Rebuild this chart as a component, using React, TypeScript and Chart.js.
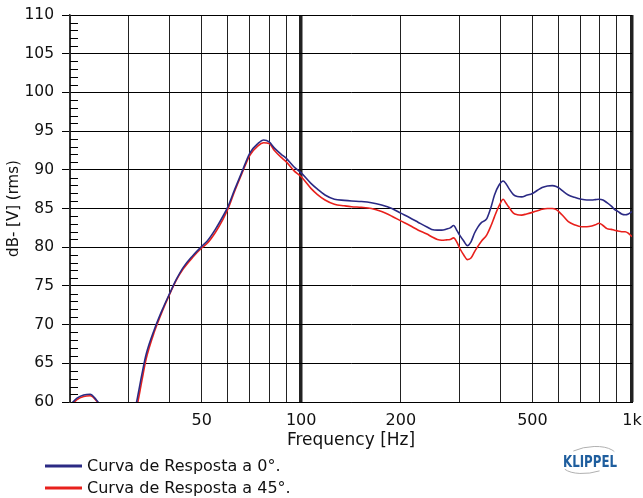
import { useEffect, useRef } from 'react';
import { Chart, registerables } from 'chart.js';

Chart.register(...registerables);

// frequency points (Hz) shared by both curves
const freqHz = [
  20, 21, 22, 23, 24, 25, 27, 29, 31, 32, 33, 34, 36, 38, 40, 42, 44, 47, 50, 52,
  55, 58, 60, 63, 66, 70, 74, 77, 80, 83, 87, 90, 95, 100, 107, 112, 118, 126, 135, 142,
  152, 163, 175, 188, 200, 213, 226, 240, 248, 258, 266, 275, 282, 289, 296, 302, 310, 318, 326, 334,
  342, 351, 364, 375, 384, 396, 408, 416, 423, 438, 450, 464, 480, 500, 518, 535, 555, 574, 590, 604,
  620, 642, 670, 703, 730, 756, 775, 795, 817, 840, 866, 885, 908, 930, 954, 975, 1000,
];

const resp0 = [
  59.6, 60.5, 60.9, 61.0, 60.3, 59.2, 56.5, 55.5, 57.8, 60.6, 63.6, 66.2, 69.4, 71.9, 74.0, 75.9, 77.4, 78.9, 80.1, 80.8,
  82.3, 84.0, 85.2, 87.5, 89.6, 92.2, 93.4, 93.85, 93.6, 92.8, 92.0, 91.5, 90.4, 89.6, 88.25, 87.5, 86.75, 86.2, 86.05, 85.97,
  85.9, 85.75, 85.45, 85.0, 84.4, 83.8, 83.2, 82.6, 82.3, 82.2, 82.2, 82.35, 82.5, 82.8, 82.1, 81.5, 80.8, 80.2, 80.7, 81.8,
  82.6, 83.2, 83.7, 85.2, 86.75, 88.0, 88.55, 88.2, 87.7, 86.8, 86.55, 86.5, 86.7, 86.95, 87.35, 87.7, 87.9, 87.95, 87.85, 87.6,
  87.2, 86.75, 86.45, 86.2, 86.1, 86.1, 86.15, 86.2, 86.1, 85.75, 85.3, 84.9, 84.6, 84.3, 84.2, 84.3, 84.6,
];

const resp45 = [
  59.4, 60.3, 60.7, 60.8, 60.2, 59.0, 56.3, 55.3, 57.3, 59.8, 62.8, 65.6, 69.1, 71.7, 73.9, 75.8, 77.2, 78.7, 79.9, 80.5,
  81.9, 83.6, 84.9, 87.3, 89.4, 91.9, 93.1, 93.5, 93.4, 92.5, 91.6, 91.05, 89.9, 89.1, 87.6, 86.8, 86.1, 85.55, 85.35, 85.23,
  85.15, 85.0, 84.6, 84.0, 83.4, 82.8, 82.2, 81.7, 81.35, 81.0, 80.9, 80.95, 81.0, 81.2, 80.6, 79.8, 79.0, 78.4, 78.6, 79.4,
  80.1, 80.8, 81.6, 82.8, 83.95, 85.3, 86.2, 85.7, 85.25, 84.4, 84.2, 84.15, 84.3, 84.5, 84.7, 84.9, 85.0, 85.0, 84.85, 84.5,
  84.0, 83.3, 82.9, 82.65, 82.65, 82.75, 82.9, 83.1, 82.8, 82.4, 82.3, 82.2, 82.1, 82.0, 82.0, 81.8, 81.35,
];

const xTickValues = [20, 30, 40, 50, 60, 70, 80, 90, 100, 200, 300, 400, 500, 600, 700, 800, 900, 1000];
const xTickLabels = ['', '', '', '50', '', '', '', '', '100', '200', '', '', '500', '', '', '', '', '1k'];
const thickLines = [100, 1000];

const seriesNames = ['Curva de Resposta a 0°.', 'Curva de Resposta a 45°.'];
const seriesColors = ['#2b2a84', '#e8201c'];

const FONT = '"DejaVu Sans", sans-serif';

const decorations = {
  id: 'decorations',
  afterDraw(chart: any) {
    const { ctx, chartArea, scales } = chart;
    ctx.save();

    // minor y ticks, drawn inside the plot
    ctx.strokeStyle = '#000';
    ctx.lineWidth = 1;
    scales.y.ticks.forEach((t: any) => {
      if (t.value % 5 === 0) return;
      const py = Math.round(scales.y.getPixelForValue(t.value)) + 0.5;
      ctx.beginPath();
      ctx.moveTo(chartArea.left, py);
      ctx.lineTo(chartArea.left + 8, py);
      ctx.stroke();
    });

    // legend
    ctx.font = `16px ${FONT}`;
    ctx.textBaseline = 'middle';
    seriesNames.forEach((name, i) => {
      const ly = 466 + i * 22;
      ctx.strokeStyle = seriesColors[i];
      ctx.lineWidth = 3;
      ctx.beginPath();
      ctx.moveTo(45, ly);
      ctx.lineTo(82, ly);
      ctx.stroke();
      ctx.fillStyle = '#111';
      ctx.fillText(name, 87, ly + 1);
    });

    // logo
    ctx.strokeStyle = '#b0b0b0';
    ctx.lineWidth = 1;
    ctx.beginPath();
    ctx.ellipse(589, 460, 28, 13, -0.15, -2.1, -0.35);
    ctx.stroke();
    ctx.beginPath();
    ctx.ellipse(589, 460, 28, 13, -0.15, 1.25, 2.7);
    ctx.stroke();
    ctx.fillStyle = '#1f5e9e';
    ctx.font = `bold 16px "DejaVu Sans Condensed", ${FONT}`;
    ctx.textBaseline = 'alphabetic';
    ctx.fillText('KLIPPEL', 563, 467, 54);

    ctx.restore();
  },
};

export default function App() {
  const chartRef = useRef<HTMLCanvasElement>(null);
  const chartInstance = useRef<Chart | null>(null);

  useEffect(() => {
    document.body.style.margin = '0';
    if (!chartRef.current) return;
    const ctx = chartRef.current.getContext('2d');
    if (!ctx) return;

    chartInstance.current = new Chart(ctx, {
      type: 'line',
      data: {
        datasets: [resp0, resp45].map((vals, i) => ({
          label: seriesNames[i],
          data: freqHz.map((f, j) => ({ x: f, y: vals[j] })),
          borderColor: seriesColors[i],
          borderWidth: 1.6,
          pointRadius: 0,
          fill: false,
          cubicInterpolationMode: 'monotone' as const,
        })),
      },
      options: {
        animation: false,
        responsive: true,
        maintainAspectRatio: false,
        layout: { padding: { left: 0, top: 15, right: 11, bottom: 0 } },
        plugins: {
          legend: { display: false },
          tooltip: { enabled: false },
        },
        scales: {
          x: {
            type: 'logarithmic',
            min: 20,
            max: 1000,
            afterBuildTicks: (s: any) => {
              s.ticks = xTickValues.map(value => ({ value }));
            },
            afterFit: (s: any) => {
              s.height = 96;
              s.paddingLeft = 0;
              s.paddingRight = 0;
            },
            ticks: {
              autoSkip: false,
              maxRotation: 0,
              padding: 9,
              color: '#111',
              font: { family: FONT, size: 16 },
              callback: (_v: any, i: number) => xTickLabels[i] ?? '',
            },
            grid: {
              color: '#222',
              lineWidth: (c: any) => (thickLines.includes(c.tick?.value) ? 3.5 : 1),
              drawTicks: false,
            },
            border: { display: true, color: '#000', width: 1 },
            title: {
              display: true,
              text: 'Frequency [Hz]',
              color: '#111',
              font: { family: FONT, size: 17 },
              padding: { top: 0, bottom: 47 },
            },
          },
          y: {
            min: 60,
            max: 110,
            afterFit: (s: any) => {
              s.width = 70;
              s.paddingTop = 0;
              s.paddingBottom = 0;
            },
            ticks: {
              stepSize: 1,
              autoSkip: false,
              padding: 8,
              color: '#111',
              font: { family: FONT, size: 15.5 },
              callback: (v: any) => (Number(v) % 5 === 0 ? String(v) : ''),
            },
            grid: {
              color: (c: any) => (c.tick.value % 5 === 0 ? '#000' : 'rgba(0,0,0,0)'),
              tickColor: (c: any) => (c.tick.value % 5 === 0 ? '#000' : 'rgba(0,0,0,0)'),
              tickLength: 8,
              lineWidth: 1,
            },
            border: { display: true, color: '#333', width: 1.5 },
            title: {
              display: true,
              text: 'dB- [V] (rms)',
              color: '#111',
              font: { family: FONT, size: 15 },
              padding: { top: 5, bottom: 0 },
            },
          },
        },
      },
      plugins: [decorations],
    });

    return () => {
      chartInstance.current?.destroy();
    };
  }, []);

  return (
    <div style={{ position: 'relative', width: 643, height: 498, background: '#fff' }}>
      <canvas ref={chartRef}></canvas>
    </div>
  );
}
